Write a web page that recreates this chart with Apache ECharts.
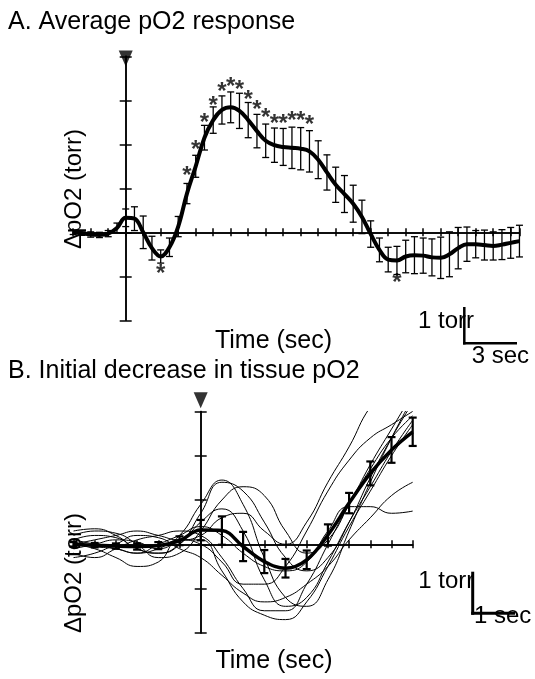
<!DOCTYPE html>
<html>
<head>
<meta charset="utf-8">
<script src="https://cdn.jsdelivr.net/npm/echarts@6/dist/echarts.min.js"></script>
<style>html,body{margin:0;padding:0;background:#fff;}#c{width:535px;height:679px;}</style>
</head>
<body>
<div id="c"></div>
<script>
// ---------- Panel A data ----------
const timeA = [-3,-2.5,-2,-1.5,-1,-0.5,0,0.5,1,1.5,2,2.5,3,3.5,4,4.5,5,5.5,6,6.5,7,7.5,8,8.5,9,9.5,10,10.5,11,11.5,12,12.5,13,13.5,14,14.5,15,15.5,16,16.5,17,17.5,18,18.5,19,19.5,20,20.5,21,21.5,22,22.5];
const meanA = [0.00,-0.02,-0.05,-0.06,-0.03,0.10,0.33,0.31,0.00,-0.36,-0.55,-0.34,0.13,0.88,1.50,2.15,2.55,2.78,2.84,2.76,2.55,2.30,2.08,1.98,1.94,1.92,1.90,1.84,1.65,1.36,1.08,0.87,0.65,0.35,-0.04,-0.40,-0.62,-0.64,-0.55,-0.52,-0.53,-0.57,-0.58,-0.50,-0.36,-0.27,-0.27,-0.29,-0.31,-0.28,-0.24,-0.20];
const errA = [0.05,0.05,0.06,0.06,0.07,0.11,0.20,0.27,0.37,0.27,0.15,0.21,0.23,0.23,0.25,0.28,0.30,0.32,0.35,0.40,0.40,0.38,0.38,0.39,0.42,0.47,0.48,0.47,0.43,0.40,0.40,0.42,0.42,0.38,0.30,0.27,0.28,0.32,0.37,0.42,0.40,0.42,0.47,0.51,0.47,0.39,0.31,0.34,0.32,0.34,0.35,0.36];
const starTimeA = [2,3.5,4,4.5,5,5.5,6,6.5,7,7.5,8,8.5,9,9.5,10,10.5,15.5];
const starYA = [-0.79,1.42,2.02,2.64,3.02,3.35,3.46,3.39,3.16,2.93,2.74,2.61,2.61,2.67,2.67,2.59,-1.01];

// ---------- Panel B data ----------
const timeB = [-3,-2.5,-2,-1.5,-1,-0.5,0,0.5,1,1.5,2,2.5,3,3.5,4,4.5,5];
const meanB = [0.00,-0.02,-0.04,-0.05,-0.03,0.08,0.32,0.31,-0.05,-0.39,-0.54,-0.35,0.21,0.93,1.60,2.13,2.54];
const errB = [0.05,0.05,0.06,0.07,0.08,0.10,0.23,0.32,0.33,0.26,0.21,0.21,0.24,0.23,0.27,0.29,0.32];
const trace1 = [0.10,0.20,0.15,-0.10,-0.20,0.00,0.70,1.40,1.20,0.50,-0.30,-0.60,-0.30,0.50,1.50,2.40,3.20];
const trace2 = [-0.10,0.00,0.10,0.05,-0.10,0.20,0.90,1.45,0.90,-0.30,-1.20,-1.40,-0.80,0.30,1.40,2.40,3.30];
const trace3 = [0.20,0.30,0.25,0.00,-0.30,-0.20,0.30,1.00,1.30,1.10,0.30,-0.20,0.10,0.90,1.80,2.60,3.40];
const trace4 = [0.00,-0.10,-0.30,-0.50,-0.40,0.10,0.10,-0.60,-1.30,-1.60,-1.70,-1.30,-0.50,0.40,1.20,2.00,2.70];
const trace5 = [-0.20,-0.30,-0.10,0.10,0.20,0.30,0.20,-0.30,-1.00,-1.50,-1.50,-0.90,0.00,0.90,1.70,2.40,2.90];
const trace6 = [0.10,0.00,-0.10,-0.20,0.00,0.20,0.40,0.20,-0.20,-0.50,-0.60,-0.40,0.30,0.85,0.85,0.70,0.75];
const trace7 = [0.30,0.35,0.20,-0.10,-0.20,0.00,0.50,0.80,0.30,-0.80,-1.40,-1.20,-0.40,0.50,1.30,2.10,2.80];
const trace8 = [-0.30,-0.20,0.00,0.20,0.15,-0.10,-0.30,-0.70,-1.10,-1.30,-1.20,-0.90,-0.50,0.10,0.60,1.10,1.40];
const trace9 = [0.00,0.10,0.20,0.30,0.20,0.10,0.20,0.60,0.70,0.30,0.00,0.50,1.40,2.20,3.10,3.60,4.00];
const trace10 = [0.05,-0.05,-0.10,-0.20,-0.10,0.10,0.00,-0.40,-0.90,-0.90,-0.50,0.30,1.20,1.90,2.40,2.70,3.00];
const tracesB = [trace1,trace2,trace3,trace4,trace5,trace6,trace7,trace8,trace9,trace10];

const FONT = "'Liberation Sans', Arial, sans-serif";
const zip = (t, v) => t.map((x, i) => [x, v[i]]);
const zip3 = (t, v, e) => t.map((x, i) => [x, v[i], e[i]]);

function errRender(capW, lw) {
  return function (params, api) {
    const x = api.value(0), y = api.value(1), e = api.value(2);
    const hi = api.coord([x, y + e]), lo = api.coord([x, y - e]);
    const style = {stroke: '#000', lineWidth: lw, fill: null};
    return {type: 'group', children: [
      {type: 'line', shape: {x1: hi[0], y1: hi[1], x2: lo[0], y2: lo[1]}, style: style},
      {type: 'line', shape: {x1: hi[0] - capW / 2, y1: hi[1], x2: hi[0] + capW / 2, y2: hi[1]}, style: style},
      {type: 'line', shape: {x1: lo[0] - capW / 2, y1: lo[1], x2: lo[0] + capW / 2, y2: lo[1]}, style: style}
    ]};
  };
}

function xAx(grid, min, max, interval, pos, yIdx, tickLen) {
  return {type: 'value', gridIndex: grid, min: min, max: max, interval: interval, position: pos,
    axisLine: {show: true, onZero: true, onZeroAxisIndex: yIdx, lineStyle: {color: '#000', width: 1.5}},
    axisTick: {show: true, length: tickLen, lineStyle: {color: '#000', width: 1.5}},
    axisLabel: {show: false}, splitLine: {show: false}};
}
function yAx(grid, min, max, interval, pos, xIdx, tickLen) {
  return {type: 'value', gridIndex: grid, min: min, max: max, interval: interval, position: pos,
    axisLine: {show: true, onZero: true, onZeroAxisIndex: xIdx, lineStyle: {color: '#000', width: 1.5}},
    axisTick: {show: true, length: tickLen, lineStyle: {color: '#000', width: 1.5}},
    axisLabel: {show: false}, splitLine: {show: false}};
}

const series = [];
// Panel A
series.push({type: 'custom', xAxisIndex: 0, yAxisIndex: 0, renderItem: errRender(7, 1.3),
  encode: {x: 0, y: 1}, data: zip3(timeA, meanA, errA), clip: false, z: 3});
series.push({type: 'line', xAxisIndex: 0, yAxisIndex: 0, data: zip(timeA, meanA), smooth: 0.4,
  symbol: 'none', lineStyle: {color: '#000', width: 4}, z: 4});
series.push({type: 'scatter', xAxisIndex: 0, yAxisIndex: 0, data: zip(starTimeA, starYA), clip: false,
  symbol: 'circle', symbolSize: 1, itemStyle: {color: 'rgba(0,0,0,0)'},
  label: {show: true, formatter: '*', position: 'inside', fontSize: 24, fontWeight: 'bold',
    fontFamily: FONT, color: '#000', offset: [0, 7]}, z: 5});
series.push({type: 'scatter', xAxisIndex: 0, yAxisIndex: 0, data: [[0, 3.95]], clip: false,
  symbol: 'triangle', symbolRotate: 180, symbolSize: [14, 16], itemStyle: {color: '#000'}, z: 6});
// Panel B
tracesB.forEach(tr => series.push({type: 'line', xAxisIndex: 2, yAxisIndex: 2, data: zip(timeB, tr),
  smooth: 0.5, symbol: 'none', lineStyle: {color: '#000', width: 1}, z: 2}));
series.push({type: 'custom', xAxisIndex: 2, yAxisIndex: 2, renderItem: errRender(8, 2.2),
  encode: {x: 0, y: 1}, data: zip3(timeB, meanB, errB), clip: false, z: 3});
series.push({type: 'line', xAxisIndex: 2, yAxisIndex: 2, data: zip(timeB, meanB), smooth: 0.4,
  symbol: 'none', lineStyle: {color: '#000', width: 3.5}, z: 4});
series.push({type: 'scatter', xAxisIndex: 2, yAxisIndex: 2, data: [[0, 3.25]], clip: false,
  symbol: 'triangle', symbolRotate: 180, symbolSize: [14, 16], itemStyle: {color: '#000'}, z: 6});

function txt(s, x, y, size, align, rot) {
  return {type: 'text', x: x, y: y, rotation: rot || 0,
    style: {text: s, fontSize: size, fontFamily: FONT, fill: '#000', textAlign: align || 'left', textVerticalAlign: 'middle'}};
}
function seg(x1, y1, x2, y2, w) {
  return {type: 'line', shape: {x1: x1, y1: y1, x2: x2, y2: y2}, style: {stroke: '#000', lineWidth: w}};
}

const option = {
  animation: false,
  backgroundColor: '#fff',
  grid: [
    {left: 73.2, top: 56.3, width: 446.25, height: 264},
    {left: 73.5, top: 411.4, width: 339.2, height: 221.5}
  ],
  xAxis: [
    xAx(0, -3, 22.5, 1, 'bottom', 0, 4),
    xAx(0, -3, 22.5, 1, 'top', 0, 4),
    xAx(1, -3, 5, 0.5, 'bottom', 2, 4),
    xAx(1, -3, 5, 0.5, 'top', 2, 4)
  ],
  yAxis: [
    yAx(0, -2, 4, 1, 'left', 0, 6),
    yAx(0, -2, 4, 1, 'right', 0, 6),
    yAx(1, -2, 3, 1, 'left', 2, 6),
    yAx(1, -2, 3, 1, 'right', 2, 6)
  ],
  series: series,
  graphic: [
    txt('A. Average pO2 response', 8, 22, 25),
    txt('B. Initial decrease in tissue pO2', 8, 371, 25),
    txt('Time (sec)', 273.5, 341, 25, 'center'),
    txt('Time (sec)', 274, 661, 25, 'center'),
    txt('ΔpO2 (torr)', 74, 189, 24, 'center', Math.PI / 2),
    txt('ΔpO2 (torr)', 74, 573, 24, 'center', Math.PI / 2),
    txt('1 torr', 418, 321, 24),
    txt('3 sec', 471.7, 356, 24),
    txt('1 torr', 418.3, 581, 24),
    txt('1 sec', 474, 616, 24),
    seg(464.3, 307, 464.3, 344.5, 2.5),
    seg(463, 343.3, 517, 343.3, 2.5),
    seg(472.7, 571.7, 472.7, 614.8, 3),
    seg(471.2, 613.3, 515, 613.3, 3)
  ]
};
const chart = echarts.init(document.getElementById('c'), null, {renderer: 'canvas'});
chart.setOption(option);
</script>
</body>
</html>
